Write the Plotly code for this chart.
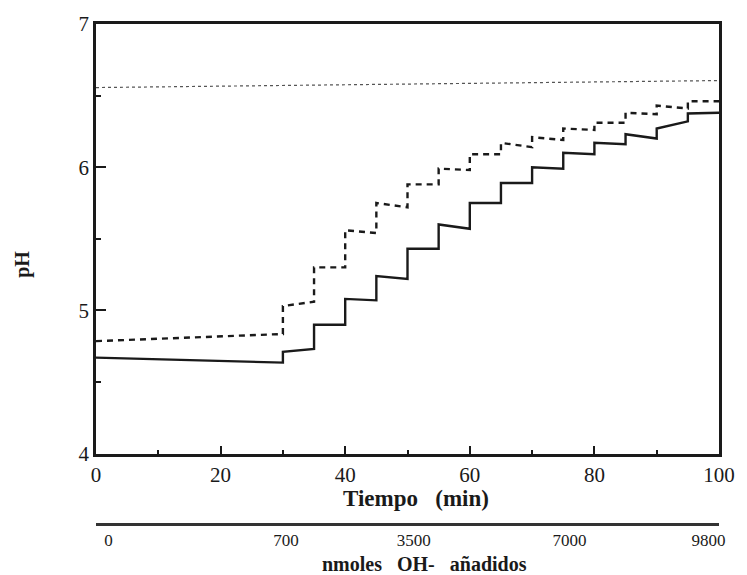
import plotly.graph_objects as go

# Time axis (min) and step boundaries (one addition of base every 5 min from 30 min)
seg_start = [0, 30, 35, 40, 45, 50, 55, 60, 65, 70, 75, 80, 85, 90, 95]
seg_end = [30, 35, 40, 45, 50, 55, 60, 65, 70, 75, 80, 85, 90, 95, 100]

# pH at the start / end of each interval, solid curve
solid_start = [4.67, 4.71, 4.90, 5.08, 5.24, 5.43, 5.60, 5.75, 5.89, 6.00, 6.10, 6.17, 6.23, 6.27, 6.375]
solid_end = [4.635, 4.73, 4.90, 5.07, 5.22, 5.43, 5.57, 5.75, 5.89, 5.99, 6.09, 6.16, 6.20, 6.32, 6.38]

# pH at the start / end of each interval, dashed curve
dash_start = [4.785, 5.03, 5.30, 5.56, 5.75, 5.88, 5.99, 6.09, 6.17, 6.21, 6.27, 6.31, 6.38, 6.43, 6.46]
dash_end = [4.835, 5.06, 5.30, 5.54, 5.72, 5.88, 5.98, 6.09, 6.14, 6.19, 6.26, 6.31, 6.37, 6.41, 6.46]

# Dotted reference curve
dot_t = [0, 50, 100]
dot_ph = [6.556, 6.58, 6.605]

# Secondary scale: base added (nmol) marked against time
nmol_pos_min = [2, 30.5, 51, 76, 98.3]
nmol_labels = ["0", "700", "3500", "7000", "9800"]


def step_path(starts, ends, v0, v1):
    xs, ys = [], []
    for a, b, p, q in zip(starts, ends, v0, v1):
        xs += [a, b]
        ys += [p, q]
    return xs, ys


FONT = "Liberation Serif"
INK = "#1a1a1a"
SP = "\u00a0"

fig = go.Figure()

sx, sy = step_path(seg_start, seg_end, solid_start, solid_end)
dx, dy = step_path(seg_start, seg_end, dash_start, dash_end)

fig.add_trace(go.Scatter(x=dot_t, y=dot_ph, mode="lines",
                         line=dict(color="#555", width=1.2, dash="dot"),
                         showlegend=False, hoverinfo="skip"))
fig.add_trace(go.Scatter(x=dx, y=dy, mode="lines",
                         line=dict(color=INK, width=2.4, dash="6px,5px"),
                         showlegend=False))
fig.add_trace(go.Scatter(x=sx, y=sy, mode="lines",
                         line=dict(color=INK, width=2.4),
                         showlegend=False))
# carrier for the secondary (nmol) axis
fig.add_trace(go.Scatter(x=[0, 100], y=[4, 4], xaxis="x2", mode="lines",
                         line=dict(width=0), opacity=0,
                         showlegend=False, hoverinfo="skip"))

fig.update_layout(
    width=747, height=575,
    margin=dict(l=96, r=19, t=20, b=51),
    paper_bgcolor="white", plot_bgcolor="white",
    font=dict(family=FONT, size=21, color=INK),
    xaxis=dict(
        range=[0, 100], tickvals=[0, 20, 40, 60, 80, 100],
        ticks="inside", ticklen=8, tickwidth=2, tickcolor=INK,
        minor=dict(ticks="inside", ticklen=4, tickwidth=2, dtick=10, tick0=0, tickcolor=INK),
        showline=True, linewidth=2.5, linecolor=INK, mirror=True,
        showgrid=False, zeroline=False, anchor="y",
        tickfont=dict(size=21),
    ),
    yaxis=dict(
        range=[4, 7], tickvals=[4, 5, 6, 7], domain=[0.1409, 1],
        ticks="inside", ticklen=10, tickwidth=2, tickcolor=INK,
        minor=dict(ticks="inside", ticklen=5, tickwidth=2, dtick=0.5, tick0=4, tickcolor=INK),
        showline=True, linewidth=2.5, linecolor=INK, mirror=True,
        showgrid=False, zeroline=False,
        tickfont=dict(size=21),
    ),
    xaxis2=dict(
        range=[0, 100], overlaying="x", anchor="free", position=0, side="bottom",
        tickvals=nmol_pos_min, ticktext=nmol_labels, ticks="",
        showline=True, linewidth=3, linecolor="#333",
        showgrid=False, zeroline=False,
        tickfont=dict(size=17),
    ),
    annotations=[
        dict(text="<b>Tiempo" + SP * 3 + "(min)</b>", xref="paper", yref="paper",
             x=0.513, y=0.0516, showarrow=False, font=dict(size=23),
             xanchor="center", yanchor="middle"),
        dict(text="<b>nmoles" + SP * 3 + "OH-" + SP * 3 + "añadidos</b>", xref="paper", yref="paper",
             x=0.528, y=-0.079, showarrow=False, font=dict(size=20),
             xanchor="center", yanchor="middle"),
        dict(text="<b>pH</b>", xref="paper", yref="paper",
             x=-0.119, y=0.52, showarrow=False, textangle=-90, font=dict(size=20),
             xanchor="center", yanchor="middle"),
    ],
)

fig.write_html("out.html")
